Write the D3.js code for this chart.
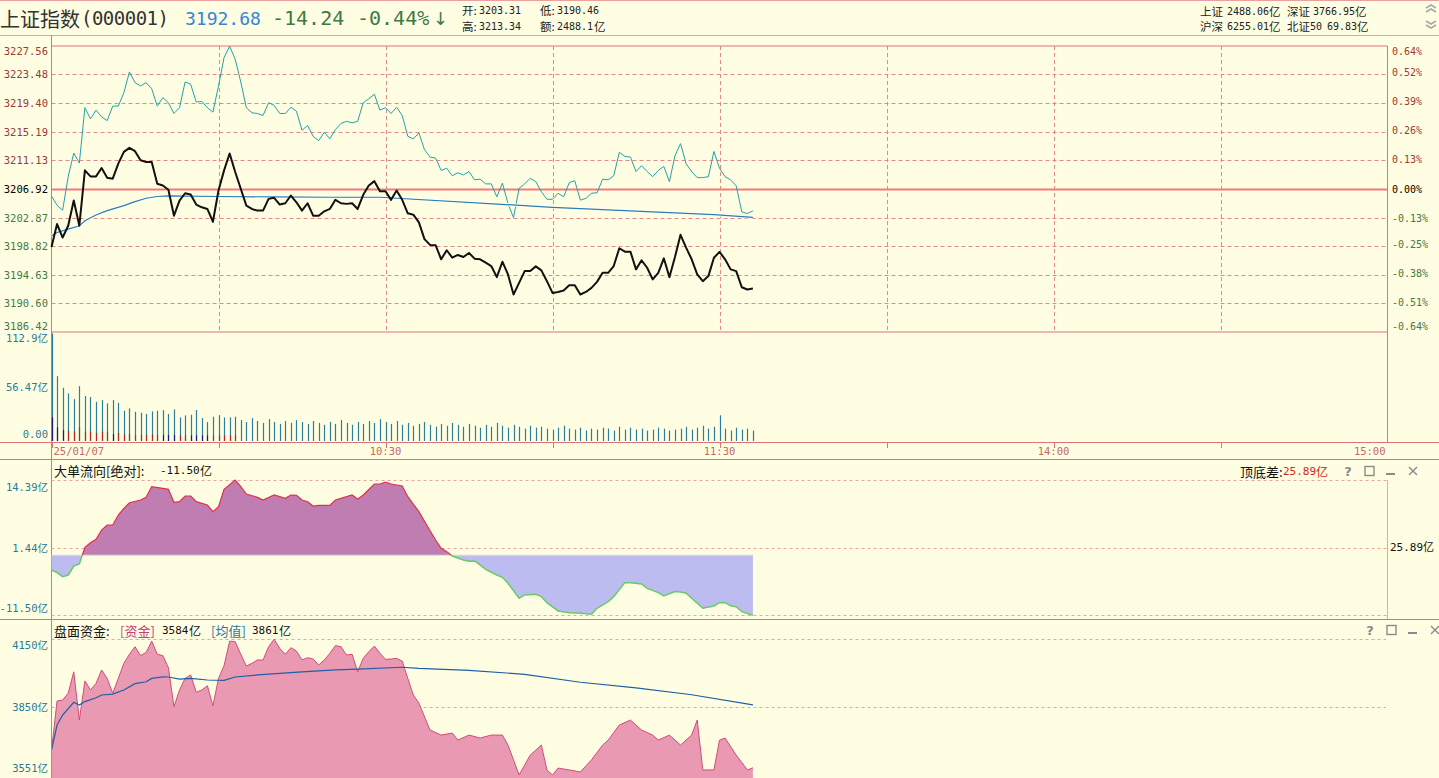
<!DOCTYPE html>
<html><head><meta charset="utf-8">
<script src="https://cdn.jsdelivr.net/npm/d3@7"></script>
<style>
html,body{margin:0;padding:0;background:#fffee2;overflow:hidden;}
svg{display:block;}
</style></head><body>
<svg id="c" width="1439" height="778"></svg>
<script>
// ---------------- DATA ----------------
const prevClose = 3206.92;
const priceClose = [
3198.66,3201.95,3200.01,3201.70,3205.33,3201.70,3209.67,3208.80,3208.80,3210.01,
3208.61,3208.47,3210.64,3212.33,3212.91,3212.43,3211.12,3210.88,3210.88,3207.75,
3207.50,3206.88,3203.15,3205.33,3206.38,3206.20,3204.75,3204.36,3204.12,3202.28,
3206.78,3209.67,3212.09,3209.43,3207.02,3204.60,3204.12,3203.88,3203.88,3205.57,
3205.72,3204.75,3204.94,3206.05,3205.08,3203.88,3204.94,3203.15,3203.15,3203.78,
3204.12,3205.43,3204.94,3204.85,3204.94,3204.12,3206.15,3207.50,3208.12,3206.67,
3206.67,3205.43,3206.78,3205.43,3203.49,3203.30,3202.18,3199.78,3198.95,3198.91,
3196.88,3198.18,3197.11,3197.50,3197.21,3197.79,3196.97,3196.88,3196.39,3195.91,
3194.31,3196.53,3194.70,3191.81,3193.49,3195.18,3195.18,3195.86,3195.28,3193.73,
3192.04,3192.18,3192.39,3193.15,3193.15,3191.81,3192.18,3192.76,3193.63,3194.94,
3194.94,3195.91,3198.47,3197.98,3197.98,3195.43,3196.73,3195.66,3193.98,3194.94,
3197.02,3194.31,3197.21,3200.40,3198.56,3196.88,3194.70,3193.73,3194.46,3197.11,
3197.94,3196.88,3195.43,3195.18,3192.86,3192.53,3192.68];
const unweightedPct = [
-0.032,-0.072,-0.095,0.055,0.161,0.116,0.364,0.314,0.353,0.323,
0.306,0.371,0.371,0.431,0.524,0.476,0.461,0.476,0.449,0.371,
0.409,0.386,0.338,0.364,0.479,0.469,0.389,0.392,0.364,0.344,
0.461,0.589,0.639,0.581,0.479,0.364,0.341,0.338,0.329,0.386,
0.374,0.338,0.338,0.366,0.348,0.263,0.284,0.236,0.216,0.254,
0.225,0.266,0.293,0.303,0.296,0.303,0.386,0.404,0.424,0.353,
0.364,0.338,0.366,0.329,0.236,0.224,0.251,0.176,0.143,0.138,
0.083,0.093,0.059,0.073,0.063,0.078,0.041,0.044,0.023,0.023,
-0.035,0.026,-0.064,-0.128,0.003,0.023,0.048,0.033,-0.012,-0.046,
-0.046,-0.019,-0.035,0.028,0.037,-0.050,-0.042,-0.019,-0.017,0.044,
0.041,0.059,0.164,0.146,0.143,0.078,0.104,0.078,0.055,0.083,
0.101,0.033,0.149,0.203,0.113,0.078,0.051,0.051,0.055,0.168,
0.093,0.055,0.041,0.014,-0.102,-0.110,-0.098];
const avgPrice = [[0,3200.25],[1,3200.73],[3,3201.22],[5,3201.70],[6,3202.43],[8,3203.25],[10,3203.88],
[13,3204.60],[15,3205.18],[17,3205.66],[19,3205.91],[21,3206.00],[30,3205.91],[40,3205.85],[50,3205.80],
[59,3205.80],[90,3204.36],[119,3203.30],[126,3202.91]];
const volume = [
112.9,68.1,55.9,50.0,44.0,57.6,47.2,46.1,41.2,43.0,39.5,43.0,40.1,31.8,34.3,30.7,29.7,28.3,31.1,31.8,
32.5,28.3,33.2,24.8,26.9,27.6,32.5,24.1,19.9,25.5,27.2,24.8,24.8,25.5,
22,20,24,21,19,23,20,18,21,19,22,20,
18,21,19,17,20,18,22,19,17,20,18,21,19,23,
20,18,21,17,19,16,18,20,17,15,18,16,19,17,15,18,16,14,17,15,
19,16,14,17,15,13,16,14,15,13,12,14,16,13,12,14,11,13,12,14,
13,11,15,12,14,12,13,11,12,14,13,11,12,13,15,12,14,16,13,15,27,13,11,14,12,13,11];
// lower bar segment (positive = red, negative = navy), first half hour as read
const volumeLow = [-24.8,-14.3,-11.5,10.8,10,14.3,10,10,8.4,10,10,-7.3,8.7,6.6,7.3,6.3,6.3,6.3,7,6.3,
-6.3,-6.3,-6.3,5.9,5.9,-5.9,-5.9,-5.9,-5.9,5.9,5.9,5.9,5.9,5.9];
const bigFlow = [[0,-2.83],[1,-3.34],[2,-4.11],[3,-3.79],[4,-2.07],[5,-1.68],[6,1.51],[7,2.39],[8,3.04],[9,4.82],
[10,5.78],[11,5.78],[12,7.69],[13,8.97],[14,10.04],[16,10.56],[17,11.07],[18,13.11],[20,12.79],[21,12.60],
[22,10.12],[23,10.24],[24,11.33],[25,11.33],[26,10.24],[28,9.60],[29,8.33],[30,9.28],[31,12.60],[33,14.39],
[34,13.11],[35,11.71],[37,11.07],[38,10.56],[40,11.52],[42,10.88],[43,11.52],[44,11.45],[45,10.56],[46,10.24],
[47,9.41],[48,9.54],[50,9.54],[51,10.56],[52,10.88],[54,11.52],[55,10.69],[56,11.52],[58,13.62],[59,13.62],
[60,14.00],[61,13.62],[63,13.24],[64,11.20],[66,8.33],[68,4.69],[69,2.91],[70,1.32],[71,0.68],[72,-0.15],
[74,-0.92],[75,-1.17],[76,-1.11],[77,-1.87],[78,-2.70],[80,-3.79],[81,-4.23],[82,-5.38],[84,-8.25],[85,-7.61],
[87,-7.48],[88,-7.93],[89,-9.09],[91,-10.67],[93,-11.00],[95,-11.12],[97,-11.31],[98,-10.16],[100,-8.89],[101,-7.93],
[103,-5.25],[104,-5.25],[106,-5.51],[107,-6.34],[109,-7.17],[110,-7.80],[112,-6.97],[113,-7.04],[114,-7.29],[116,-9.20],
[117,-10.16],[119,-9.72],[120,-9.09],[121,-9.09],[122,-9.66],[123,-9.85],[124,-10.81],[126,-11.50]];
const funds = [[0,3662],[1,3878],[2,3882],[3,3912],[4,4006],[5,3794],[6,3966],[7,3926],[8,3955],[9,4014],
[10,3977],[11,3912],[12,3977],[13,4043],[14,4083],[15,4116],[16,4077],[17,4091],[18,4141],[19,4083],
[20,4077],[21,4024],[22,3853],[23,3926],[24,3977],[25,3992],[26,3916],[27,3926],[28,3945],[29,3857],
[30,3977],[31,4033],[32,4141],[33,4138],[34,4083],[35,4031],[36,4043],[37,4058],[38,4058],[39,4116],
[40,4149],[41,4109],[42,4083],[43,4112],[44,4097],[45,4058],[46,4068],[47,4062],[48,4036],[49,4058],
[50,4087],[51,4121],[52,4116],[53,4080],[54,4083],[55,4006],[56,4065],[57,4094],[58,4119],[59,4087],
[60,4061],[61,4062],[62,4065],[63,4053],[64,3977],[65,3904],[66,3868],[68,3750],[70,3728],[72,3737],
[73,3706],[75,3728],[77,3715],[79,3728],[81,3728],[82,3684],[83,3619],[84,3553],[86,3640],[88,3684],
[89,3575],[90,3553],[91,3583],[93,3575],[95,3566],[97,3619],[99,3684],[100,3706],[102,3772],[104,3794],
[106,3750],[108,3728],[109,3706],[111,3728],[113,3684],[115,3728],[116,3794],[117,3575],[119,3575],[120,3706],
[121,3715],[123,3640],[125,3575],[126,3584]];
const fundsAvg = [[0,3662],[1,3772],[2,3816],[4,3872],[5,3860],[6,3875],[8,3892],[9,3904],[11,3908],[13,3926],
[15,3954],[17,3962],[18,3977],[20,3984],[21,3983],[23,3974],[25,3977],[28,3970],[31,3968],[33,3983],[37,3992],
[45,4006],[51,4014],[55,4018],[63,4026],[66,4021],[75,4012],[85,3995],[95,3960],[105,3935],[115,3905],[126,3861]];

const priceTicks = ["3227.56","3223.48","3219.40","3215.19","3211.13","3206.92","3202.87","3198.82","3194.63","3190.60","3186.42"];
const pctTicks = ["0.64%","0.52%","0.39%","0.26%","0.13%","0.00%","-0.13%","-0.25%","-0.38%","-0.51%","-0.64%"];
const volTicks = [[112.9,"112.9亿"],[56.47,"56.47亿"],[0,"0.00"]];
const flowTicks = [[14.39,"14.39亿"],[1.44,"1.44亿"],[-11.50,"-11.50亿"]];
const fundTicks = [[4150,"4150亿"],[3850,"3850亿"],[3551,"3551亿"]];
const timeLabels = [[0,"25/01/07","start"],[60,"10:30","middle"],[120,"11:30","middle"],[180,"14:00","middle"],[240,"15:00","end"]];
const gridMinutes = [30,60,90,120,150,180,210];

// ---------------- LAYOUT ----------------
const W=1439, H=778, L=51.5, R=1387.5;
const PINK="#e07272", DASH="#e28a8a", BG="#fffee2";
const MONO="'DejaVu Sans Mono','Noto Sans CJK SC',monospace";
const SANS="'Liberation Sans','Noto Sans CJK SC',sans-serif";
const CJK="'Noto Sans CJK SC',sans-serif";
const svg = d3.select("#c");
svg.append("rect").attr("width",W).attr("height",H).attr("fill",BG);
const x = d3.scaleLinear().domain([0,240]).range([L,R]);

const pTop=46, pBot=332;
const yP = d3.scaleLinear().domain([3186.42,3227.56]).range([pBot,pTop]);
const yPct = d3.scaleLinear().domain([-0.64,0.64]).range([pBot,pTop]);
const yV = d3.scaleLinear().domain([0,112.9]).range([441,333.5]);
const yF = d3.scaleLinear().domain([-11.5,14.39]).range([615.3,480]);
const yM = d3.scaleLinear().domain([3850,4150]).range([707.3,639]);

function hline(y,x1,x2,color,w,dash){svg.append("line").attr("x1",x1).attr("x2",x2).attr("y1",y).attr("y2",y)
  .attr("stroke",color).attr("stroke-width",w||1).attr("stroke-dasharray",dash||null);}
function vline(xx,y1,y2,color,w,dash){svg.append("line").attr("x1",xx).attr("x2",xx).attr("y1",y1).attr("y2",y2)
  .attr("stroke",color).attr("stroke-width",w||1).attr("stroke-dasharray",dash||null);}
function txt(xx,y,s,o){o=o||{};return svg.append("text").attr("x",xx).attr("y",y).text(s)
  .style("font-size",(o.size||12)+"px").attr("fill",o.fill||"#000").attr("text-anchor",o.anchor||"start")
  .attr("dominant-baseline","central").style("font-family",o.font||SANS);}

// ---------------- HEADER ----------------
hline(0.5,0,W,"#eaa0a0",1);
hline(35.5,0,W,"#eaa0a0",1);
txt(0,18,"上证指数",{size:20,fill:"#333",font:CJK});
txt(81,18,"(000001)",{size:19,fill:"#333",font:MONO}).attr("textLength",88);
txt(185,18,"3192.68",{size:18,fill:"#3585d5",font:MONO});
txt(272,18,"-14.24",{size:20,fill:"#3d7a45",font:MONO});
txt(357,18,"-0.44%",{size:20,fill:"#3d7a45",font:MONO});
txt(433,18,"↓",{size:18,fill:"#3d7a45",font:"'DejaVu Sans',sans-serif"});
const sm={size:11.5,fill:"#222",font:CJK};
const smn={size:10,fill:"#222",font:MONO};
txt(462,10,"开:",sm); txt(479,10,"3203.31",smn); txt(540,10,"低:",sm); txt(557,10,"3190.46",smn);
txt(462,26,"高:",sm); txt(479,26,"3213.34",smn); txt(540,26,"额:",sm); txt(557,26,"2488.1",smn); txt(594,26,"亿",sm);
txt(1200,11,"上证",sm); txt(1227,11,"2488.06",smn); txt(1269,11,"亿",sm);
txt(1287,11,"深证",sm); txt(1313,11,"3766.95",smn); txt(1355,11,"亿",sm);
txt(1200,26,"沪深",sm); txt(1227,26,"6255.01",smn); txt(1269,26,"亿",sm);
txt(1287,26,"北证",sm); txt(1310,26,"50",smn); txt(1327,26,"69.83",smn); txt(1357,26,"亿",sm);
// chevrons
const chev = svg.append("g").attr("fill","none").attr("stroke","#a8a8a8").attr("stroke-width",1.6);
[[5,-1],[9,-1],[21,1],[25,1]].forEach(([y,d])=>{
  chev.append("path").attr("d",`M1426,${y+ (d<0?3:0)} L1431,${y+(d<0?0:3)} L1436,${y+(d<0?3:0)}`);
});

// ---------------- MAIN PRICE PANEL ----------------
vline(L,35,H,PINK,1);
hline(pTop,L,R,PINK,1);
hline(pBot,L,R,PINK,1);
vline(R,pTop,442,PINK,1);
priceTicks.forEach((t,i)=>{
  const y=yP(+t);
  if(i>0 && i<priceTicks.length-1 && i!==5) hline(Math.round(y)+0.5,L,R,DASH,1,"4,3");
});
gridMinutes.forEach(m=>vline(Math.round(x(m))+0.5,pTop,pBot,DASH,1,"4,3"));
hline(yP(prevClose),L,R,"#f07a7a",2);
priceTicks.forEach((t,i)=>{
  const y=Math.min(Math.max(yP(+t),51),326);
  const col = i<5?"#9a3b3b":(i===5?"#000":"#3f7a45");
  txt(48,y,t,{size:10.5,fill:col,anchor:"end",font:MONO});
  txt(1392,Math.min(Math.max(yPct(parseFloat(pctTicks[i])),51),326),pctTicks[i],{size:10,fill:col,font:MONO});
});
// lines
svg.append("path").datum(unweightedPct).attr("fill","none").attr("stroke","#22a3a8").attr("stroke-width",1)
  .attr("d",d3.line().x((d,i)=>x(i)).y(d=>yPct(d)));
svg.append("path").datum(avgPrice).attr("fill","none").attr("stroke","#fffef0").attr("stroke-width",3)
  .attr("d",d3.line().x(d=>x(d[0])).y(d=>yP(d[1])));
svg.append("path").datum(avgPrice).attr("fill","none").attr("stroke","#2a7db5").attr("stroke-width",1.2)
  .attr("d",d3.line().x(d=>x(d[0])).y(d=>yP(d[1])));
svg.append("path").datum(priceClose).attr("fill","none").attr("stroke","#111").attr("stroke-width",2)
  .attr("stroke-linejoin","round").attr("d",d3.line().x((d,i)=>x(i)).y(d=>yP(d)));

// ---------------- VOLUME PANEL ----------------
volTicks.forEach(([v,s])=>txt(48,v===0?434:(v>100?338:yV(v)),s,{size:10.5,fill:"#2b7a98",anchor:"end",font:MONO}));
svg.append("g").selectAll("line").data(volume).join("line")
  .attr("x1",(d,i)=>Math.round(x(i))+0.5).attr("x2",(d,i)=>Math.round(x(i))+0.5)
  .attr("y1",yV(0)).attr("y2",d=>yV(d)).attr("stroke","#2c7f9c").attr("stroke-width",1.2);
svg.append("g").selectAll("line").data(volumeLow).join("line")
  .attr("x1",(d,i)=>Math.round(x(i))+0.5).attr("x2",(d,i)=>Math.round(x(i))+0.5)
  .attr("y1",yV(0)).attr("y2",d=>yV(Math.abs(d))).attr("stroke",d=>d>0?"#b02828":"#1c1c80").attr("stroke-width",1.2);
hline(442.5,0,W,PINK,1);

// ---------------- TIME AXIS ----------------
timeLabels.forEach(([m,s,a])=>{
  const xx = a==="start"?x(m)+2:(a==="end"?x(m)-2:x(m));
  txt(xx,451,s,{size:10.5,fill:"#c86666",anchor:a,font:MONO});
});
gridMinutes.concat([0]).forEach(m=>vline(Math.round(x(m))+0.5,443,448,PINK,1));
hline(459.5,0,W,PINK,1);

// ---------------- BIG ORDER FLOW PANEL ----------------
txt(54,470,"大单流向[绝对]:",{size:13,fill:"#111",font:CJK});
txt(160,470,"-11.50",{size:11,fill:"#111",font:MONO}); txt(200,470,"亿",{size:12,fill:"#111",font:CJK});
txt(1240,471,"顶底差:",{size:13,fill:"#111",font:CJK});
txt(1283,471,"25.89",{size:11,fill:"#d02424",font:MONO}); txt(1316,471,"亿",{size:12,fill:"#d02424",font:CJK});
function icons(xs,y){
  const g=svg.append("g").attr("stroke","#8a8a8a").attr("fill","none").attr("stroke-width",1.4);
  txt(xs,y,"?",{size:13,fill:"#8a8a8a",anchor:"middle",font:"'DejaVu Sans',sans-serif"}).attr("font-weight","bold");
  g.append("rect").attr("x",xs+17).attr("y",y-4.5).attr("width",9).attr("height",9);
  g.append("line").attr("x1",xs+38).attr("x2",xs+47).attr("y1",y+3).attr("y2",y+3).attr("stroke-width",2);
  g.append("path").attr("d",`M${xs+61},${y-4} L${xs+69},${y+4} M${xs+69},${y-4} L${xs+61},${y+4}`);
}
icons(1348,471);
[14.39,1.44,-11.50].forEach(v=>hline(Math.round(yF(v))+0.5,L,R,"#e8a4a4",1,"3,3"));
flowTicks.forEach(([v,s])=>txt(48,v>10?487:(v<-10?608:yF(v)),s,{size:10.5,fill:"#2b7a98",anchor:"end",font:MONO}));
txt(1390,547,"25.89亿",{size:11,fill:"#111",font:MONO});
vline(R,480,619,"#c9b9a0",1);
const z0=yF(0);
const defs=svg.append("defs");
defs.append("clipPath").attr("id","cpos").append("rect").attr("x",0).attr("y",0).attr("width",W).attr("height",z0);
defs.append("clipPath").attr("id","cneg").append("rect").attr("x",0).attr("y",z0).attr("width",W).attr("height",H-z0);
const fArea=d3.area().x(d=>x(d[0])).y0(z0).y1(d=>yF(d[1]));
const fLine=d3.line().x(d=>x(d[0])).y(d=>yF(d[1]));
svg.append("path").datum(bigFlow).attr("d",fArea).attr("fill","#bf7db1").attr("clip-path","url(#cpos)");
svg.append("path").datum(bigFlow).attr("d",fArea).attr("fill","#bcbcf0").attr("clip-path","url(#cneg)");
hline(z0,x(0),x(126),"#d8d8d8",1);
svg.append("path").datum(bigFlow).attr("d",fLine).attr("fill","none").attr("stroke","#e0304a").attr("stroke-width",1.2).attr("clip-path","url(#cpos)");
svg.append("path").datum(bigFlow).attr("d",fLine).attr("fill","none").attr("stroke","#66cc66").attr("stroke-width",1.5).attr("clip-path","url(#cneg)");
hline(619.5,0,W,PINK,1);

// ---------------- FUNDS PANEL ----------------
txt(54,630,"盘面资金:",{size:13,fill:"#111",font:CJK});
txt(120,630,"[资金]",{size:13,fill:"#c0407a",font:CJK});
txt(162,630,"3584",{size:11,fill:"#111",font:MONO}); txt(189,630,"亿",{size:12,fill:"#111",font:CJK});
txt(211,630,"[均值]",{size:13,fill:"#2a78a8",font:CJK});
txt(252,630,"3861",{size:11,fill:"#111",font:MONO}); txt(279,630,"亿",{size:12,fill:"#111",font:CJK});
icons(1370,630);
[4150,3850].forEach(v=>hline(Math.round(yM(v))+0.5,L,1386,"#e8a4a4",1,"3,3"));
fundTicks.forEach(([v,s])=>txt(48,v<3600?768:(v>4100?645:yM(v)),s,{size:10.5,fill:"#2b7a98",anchor:"end",font:MONO}));
svg.append("path").datum(funds).attr("fill","#e999b2")
  .attr("d",d3.area().x(d=>x(d[0])).y0(H).y1(d=>yM(d[1])));
svg.append("path").datum(funds).attr("fill","none").attr("stroke","#d44a7c").attr("stroke-width",1)
  .attr("d",d3.line().x(d=>x(d[0])).y(d=>yM(d[1])));
svg.append("path").datum(fundsAvg).attr("fill","none").attr("stroke","#1f5fa5").attr("stroke-width",1.2)
  .attr("d",d3.line().x(d=>x(d[0])).y(d=>yM(d[1])));
vline(L,620,H,PINK,1);
</script>
</body></html>
